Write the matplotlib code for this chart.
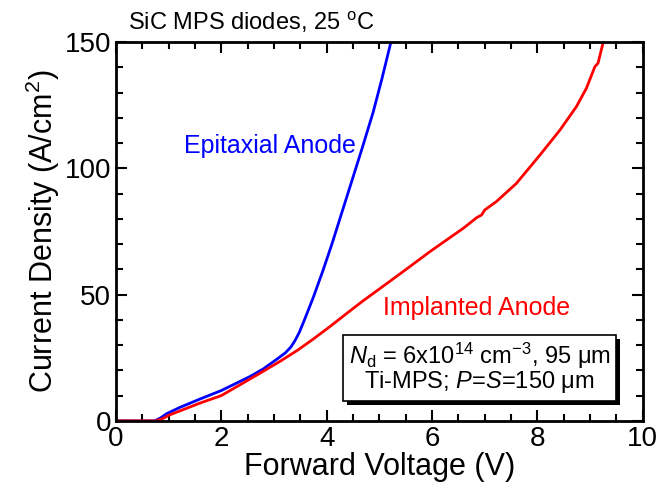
import matplotlib
matplotlib.use("Agg")
import matplotlib.pyplot as plt
import matplotlib.patheffects as pe
from matplotlib.ticker import MultipleLocator

plt.rcParams['font.family'] = ['Liberation Sans', 'DejaVu Sans']
plt.rcParams['mathtext.fontset'] = 'custom'
plt.rcParams['mathtext.rm'] = 'Liberation Sans'
plt.rcParams['mathtext.it'] = 'Liberation Sans:italic'

# Epitaxial anode (blue)
v_epi = [0.0, 0.5, 0.74, 0.85, 0.96, 1.2, 1.59, 2.0, 2.54, 2.8, 3.08, 3.22,
         3.32, 3.40, 3.48, 3.56, 3.74, 3.93, 4.10, 4.38, 4.66, 4.88, 5.05, 5.22]
j_epi = [0.0, 0.0, 0.0, 1.2, 2.8, 5.2, 8.6, 12.0, 17.5, 20.6, 24.8, 27.0,
         29.2, 31.8, 35.0, 39.0, 48.5, 59.5, 70.0, 88.5, 107.0, 122.0, 135.5, 150.0]

# Implanted anode (red)
v_imp = [0.0, 0.5, 0.76, 0.9, 1.0, 1.59, 2.0, 2.73, 3.11, 3.45, 3.74, 4.06,
         4.44, 4.69, 5.32, 5.58, 5.96, 6.59, 6.85, 6.94, 7.0, 7.22, 7.60,
         8.05, 8.43, 8.74, 8.93, 9.09, 9.15, 9.25]
j_imp = [0.0, 0.0, 0.0, 1.0, 2.2, 7.0, 10.0, 18.8, 23.5, 28.0, 32.3, 37.3,
         43.5, 47.5, 57.1, 61.1, 67.0, 76.2, 80.5, 81.5, 83.5, 86.8, 94.0,
         105.3, 115.2, 124.4, 131.7, 140.2, 141.6, 150.0]

fig = plt.figure(figsize=(6.62, 4.94), dpi=100)
ax = fig.add_axes([0.175, 0.148, 0.796, 0.767])

ax.plot(v_epi, j_epi, color='#0000ff', lw=2.0)
ax.plot(v_imp, j_imp, color='#ff0000', lw=2.0)

ax.set_xlim(0, 10)
ax.set_ylim(0, 150)
ax.xaxis.set_major_locator(MultipleLocator(2))
ax.xaxis.set_minor_locator(MultipleLocator(0.5))
ax.yaxis.set_major_locator(MultipleLocator(50))
ax.yaxis.set_minor_locator(MultipleLocator(10))
ax.tick_params(which='both', direction='in', top=True, right=True, width=1.5,
               labelsize=20)
ax.tick_params(which='major', length=8)
ax.tick_params(which='minor', length=5)
for s in ax.spines.values():
    s.set_linewidth(2)

ax.set_xlabel('Forward Voltage (V)', fontsize=22, labelpad=0)
ax.set_ylabel('Current Density (A/cm$^2$)', fontsize=22, labelpad=2)

ax.text(1.29, 109, 'Epitaxial Anode', color='#0000ff', fontsize=18,
        va='center', ha='left')
ax.text(5.07, 44.7, 'Implanted Anode', color='#ff0000', fontsize=18,
        va='center', ha='left')

box = ax.text(6.9, 21, '$N_\\mathrm{d}$ = 6x10$^{14}$ cm$^{-3}$, 95 \u03bcm\n'
              'Ti-MPS; $P$=$S$=150 \u03bcm',
              fontsize=17, ha='center', va='center', linespacing=0.9,
              bbox=dict(boxstyle='square,pad=0.25', fc='white', ec='black', lw=1.2))
box.get_bbox_patch().set_path_effects([
    pe.SimplePatchShadow(offset=(3, -3), shadow_rgbFace='black', alpha=1),
    pe.Normal()])

fig.text(0.193, 0.955, 'SiC MPS diodes, 25 $^\\mathrm{o}$C', fontsize=17,
         ha='left', va='center')

fig.savefig('out.png', dpi=100)
